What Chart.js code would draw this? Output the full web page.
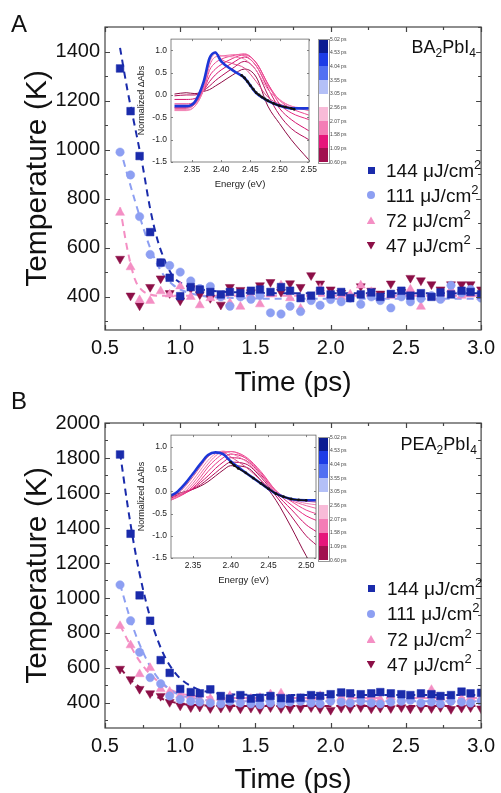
<!DOCTYPE html>
<html>
<head>
<meta charset="utf-8">
<script src="https://cdn.jsdelivr.net/npm/chart.js@4.4.1/dist/chart.umd.min.js"></script>
<style>
  body { margin: 0; background: #fff; }
  #wrap { position: relative; width: 501px; height: 793px; overflow: hidden; font-family: Arial, "Liberation Sans", sans-serif; color: #111; }
  #wrap canvas, #wrap .t { position: absolute; }
  .t { white-space: nowrap; line-height: 1; }
  .sub { font-size: 12px; position: relative; top: 4px; }
  .sup { font-size: 13px; position: relative; top: -8px; }
</style>
</head>
<body>
<div id="wrap">
  <canvas id="mainA" width="501" height="400" style="left:0;top:0"></canvas>
  <canvas id="insetA" width="194" height="166" style="left:126px;top:30px"></canvas>
  <canvas id="mainB" width="501" height="398" style="left:0;top:395px"></canvas>
  <canvas id="insetB" width="194" height="166" style="left:126px;top:426px"></canvas>
  <div class="t" style="left:11px;top:12px;font-size:24px">A</div>
  <div class="t" style="left:11px;top:389px;font-size:24px">B</div>
  <div class="t" style="right:25px;top:38px;font-size:18px">BA<span class="sub">2</span>PbI<span class="sub">4</span></div>
  <div class="t" style="right:24px;top:435px;font-size:18px">PEA<span class="sub">2</span>PbI<span class="sub">4</span></div>
</div>
<script>
const FONT = 'Arial, "Liberation Sans", sans-serif';

// delay times (ps) of the temperature points
const times = [0.60, 0.67, 0.73, 0.80, 0.87, 0.93, 1.00, 1.07, 1.13, 1.20, 1.27, 1.33, 1.40, 1.47, 1.53, 1.60, 1.67, 1.73, 1.80, 1.87,
  1.93, 2.00, 2.07, 2.13, 2.20, 2.27, 2.33, 2.40, 2.47, 2.53, 2.60, 2.67, 2.73, 2.80, 2.87, 2.93, 3.00];
const fluences = ['144', '111', '72', '47'];

// BA2PbI4 carrier temperature (K)
const tempA144 = [1331, 1157, 974, 664, 540, 478, 403, 440, 430, 420, 410, 420, 415, 425, 430, 420, 440, 425, 395, 405,
  425, 410, 420, 395, 410, 418, 400, 412, 425, 405, 415, 400, 418, 410, 425, 420, 410];
const tempA111 = [990, 897, 727, 573, 538, 528, 501, 465, 434, 443, 400, 362, 400, 390, 405, 335, 330, 362, 340, 385,
  366, 389, 380, 395, 370, 400, 385, 355, 400, 380, 393, 405, 390, 447, 416, 430, 395];
const tempA72 = [743, 521, 387, 384, 423, 410, 443, 400, 366, 395, 400, 375, 360, 405, 370, 410, 447, 395, 352, 395,
  434, 405, 400, 410, 447, 420, 395, 405, 415, 430, 360, 400, 395, 430, 405, 410, 400];
const tempA47 = [555, 405, 365, 440, 475, 415, 385, 435, 410, 395, 368, 440, 428, 418, 447, 460, 420, 455, 440, 488,
  454, 430, 416, 400, 443, 425, 413, 454, 420, 477, 467, 451, 430, 451, 451, 451, 430];

// PEA2PbI4 carrier temperature (K)
const tempB144 = [1820, 1367, 1015, 870, 645, 572, 480, 462, 455, 478, 440, 425, 445, 425, 430, 440, 428, 425, 430, 445,
  440, 450, 460, 455, 450, 455, 462, 455, 450, 445, 455, 450, 440, 445, 465, 455, 458];
const tempB111 = [1075, 870, 690, 545, 510, 440, 420, 410, 405, 400, 395, 410, 400, 395, 390, 400, 395, 405, 410, 400,
  395, 410, 405, 400, 410, 400, 395, 405, 410, 415, 400, 405, 395, 410, 405, 400, 410];
const tempB72 = [840, 730, 565, 600, 480, 465, 445, 440, 420, 425, 430, 440, 420, 425, 430, 450, 455, 420, 425, 430,
  440, 425, 430, 420, 425, 430, 420, 435, 425, 430, 440, 475, 430, 420, 425, 430, 425];
const tempB47 = [595, 535, 480, 455, 440, 405, 385, 375, 378, 370, 372, 375, 368, 372, 365, 375, 370, 368, 372, 375,
  368, 360, 372, 370, 375, 368, 372, 370, 375, 368, 372, 370, 376, 365, 372, 375, 368];

// dashed fit curves
const fitTimes = [0.6, 0.65, 0.7, 0.75, 0.8, 0.85, 0.9, 0.95, 1.0, 1.1, 1.2, 1.4, 1.7, 2.0, 2.5, 3.0];
const fitA144 = [1415, 1240, 1090, 935, 760, 630, 545, 485, 458, 435, 425, 418, 415, 415, 415, 415];
const fitA111 = [1005, 895, 790, 690, 600, 530, 480, 450, 430, 410, 400, 395, 392, 392, 392, 392];
const fitA72 = [765, 590, 470, 425, 410, 405, 405, 405, 405, 405, 405, 405, 405, 405, 405, 405];
const fitB144 = [1830, 1530, 1270, 1060, 890, 760, 660, 590, 540, 485, 460, 448, 445, 445, 445, 445];
const fitB111 = [1080, 930, 800, 695, 610, 545, 500, 465, 445, 425, 415, 410, 410, 410, 410, 410];
const fitB72 = [845, 760, 680, 615, 565, 525, 495, 470, 455, 440, 432, 428, 428, 428, 428, 428];
const fitB47 = [600, 550, 510, 478, 452, 432, 418, 405, 396, 388, 385, 383, 383, 383, 383, 383];

// inset spectra, early (0.60 ps) to late (5.02 ps)
const energyA = [2.32, 2.34, 2.355, 2.37, 2.38, 2.39, 2.40, 2.42, 2.44, 2.46, 2.48, 2.50, 2.52, 2.55];
const spectraA = [
  [0.02, 0.05, 0.03, 0.08, 0.12, 0.2, 0.28, 0.45, 0.58, 0.4, -0.25, -0.64, -1.0, -1.45],
  [-0.02, 0.0, 0.0, 0.1, 0.2, 0.32, 0.42, 0.6, 0.75, 0.55, 0.0, -0.45, -0.75, -1.0],
  [-0.1, -0.1, -0.08, 0.1, 0.3, 0.45, 0.56, 0.72, 0.85, 0.65, 0.15, -0.3, -0.55, -0.8],
  [-0.2, -0.2, -0.15, 0.1, 0.42, 0.58, 0.68, 0.82, 0.9, 0.72, 0.25, -0.2, -0.4, -0.55],
  [-0.28, -0.28, -0.2, 0.12, 0.55, 0.72, 0.8, 0.88, 0.92, 0.72, 0.25, -0.12, -0.3, -0.45],
  [-0.33, -0.33, -0.25, 0.12, 0.65, 0.85, 0.87, 0.9, 0.88, 0.65, 0.2, -0.1, -0.25, -0.35],
  [-0.35, -0.35, -0.25, 0.15, 0.72, 0.92, 0.88, 0.85, 0.8, 0.55, 0.12, -0.12, -0.25, -0.3],
  [-0.3, -0.3, -0.2, 0.2, 0.78, 0.96, 0.8, 0.7, 0.6, 0.3, -0.05, -0.2, -0.28, -0.3],
  [-0.25, -0.25, -0.15, 0.3, 0.82, 0.95, 0.75, 0.55, 0.38, 0.04, -0.13, -0.24, -0.3, -0.3]
];
const fitEnergyA = [2.435, 2.44, 2.445, 2.45, 2.455, 2.46, 2.465, 2.47, 2.475, 2.48, 2.49, 2.50, 2.51, 2.52, 2.525];
const fitSpecA = [0.44, 0.38, 0.3, 0.21, 0.13, 0.05, 0.0, -0.05, -0.09, -0.13, -0.19, -0.24, -0.27, -0.3, -0.32];

const energyB = [2.32, 2.33, 2.34, 2.35, 2.36, 2.37, 2.38, 2.39, 2.40, 2.42, 2.44, 2.46, 2.48, 2.50, 2.513];
const spectraB = [
  [-0.1, -0.05, 0.0, 0.05, 0.12, 0.22, 0.35, 0.48, 0.58, 0.55, 0.25, -0.2, -0.8, -1.45, -1.8],
  [-0.12, -0.08, -0.02, 0.05, 0.15, 0.28, 0.42, 0.56, 0.66, 0.62, 0.32, -0.1, -0.55, -1.0, -1.2],
  [-0.15, -0.1, -0.03, 0.06, 0.2, 0.35, 0.52, 0.66, 0.76, 0.7, 0.38, -0.05, -0.4, -0.75, -0.9],
  [-0.18, -0.12, -0.04, 0.08, 0.25, 0.45, 0.62, 0.76, 0.84, 0.75, 0.42, 0.0, -0.3, -0.55, -0.65],
  [-0.2, -0.13, -0.03, 0.12, 0.32, 0.55, 0.72, 0.85, 0.9, 0.78, 0.45, 0.02, -0.22, -0.42, -0.5],
  [-0.2, -0.12, 0.0, 0.18, 0.4, 0.62, 0.8, 0.9, 0.9, 0.75, 0.42, 0.0, -0.2, -0.32, -0.38],
  [-0.18, -0.1, 0.05, 0.25, 0.48, 0.7, 0.85, 0.91, 0.86, 0.68, 0.35, -0.02, -0.18, -0.27, -0.3],
  [-0.14, -0.05, 0.12, 0.33, 0.56, 0.78, 0.88, 0.88, 0.78, 0.55, 0.25, -0.04, -0.17, -0.22, -0.24],
  [-0.1, 0.0, 0.18, 0.4, 0.62, 0.82, 0.88, 0.84, 0.68, 0.42, 0.18, -0.05, -0.17, -0.2, -0.2]
];
const fitEnergyB = [2.40, 2.405, 2.41, 2.42, 2.43, 2.44, 2.45, 2.46, 2.47, 2.48, 2.49, 2.50];
const fitSpecB = [0.66, 0.58, 0.52, 0.42, 0.3, 0.18, 0.06, -0.05, -0.12, -0.17, -0.19, -0.2];

// colour bar
const delayLabels = ['5.02 ps', '4.53 ps', '4.04 ps', '3.55 ps', '3.05 ps', '2.56 ps', '2.07 ps', '1.58 ps', '1.09 ps', '0.60 ps'];
const barColors = ['#0b1c92', '#1d3ce6', '#5270f2', '#b4c0f7', '#ffffff', '#f8bbd8', '#f47db6', '#e6157b', '#a1104f'];
const lineColors = ['#8e0b45', '#b30e5a', '#d4126d', '#e62a80', '#ec4791', '#f064a2', '#f27fb2', '#e04a8c', '#1c37d8'];

const markStyles = [
  { color: '#1a2bab', shape: 'rect', r: 5.4, rot: 0 },
  { color: '#8d9ff2', shape: 'circle', r: 4.2, rot: 0 },
  { color: '#f48fc4', shape: 'triangle', r: 5.2, rot: 0 },
  { color: '#8c0f47', shape: 'triangle', r: 5.2, rot: 180 }
];

const framePlugin = {
  id: 'frame',
  afterDatasetsDraw(chart, args, o) {
    const { ctx, chartArea: a } = chart;
    const xs = chart.scales.x, ys = chart.scales.y;
    ctx.save();
    ctx.strokeStyle = o.color;
    ctx.lineWidth = o.width;
    ctx.strokeRect(a.left, a.top, a.right - a.left, a.bottom - a.top);
    ctx.beginPath();
    xs.ticks.forEach(t => {
      const p = Math.round(xs.getPixelForValue(t.value)) + 0.5;
      const len = t.label === '' ? o.minor : o.major;
      ctx.moveTo(p, a.bottom); ctx.lineTo(p, a.bottom - len);
      ctx.moveTo(p, a.top); ctx.lineTo(p, a.top + len);
    });
    ys.ticks.forEach(t => {
      const p = Math.round(ys.getPixelForValue(t.value)) + 0.5;
      const len = t.label === '' ? o.minor : o.major;
      ctx.moveTo(a.left, p); ctx.lineTo(a.left + len, p);
      ctx.moveTo(a.right, p); ctx.lineTo(a.right - len, p);
    });
    ctx.stroke();
    ctx.restore();
  }
};

const onStep = (v, step) => Math.abs(v / step - Math.round(v / step)) < 1e-6;
const noGrid = { display: false, drawTicks: false };

function tempChart(id, series, fits, yMin, yMax, padTop, xAxisH, titleLH, titlePad) {
  const datasets = [];
  series.forEach((vals, k) => {
    const s = markStyles[k];
    datasets.push({
      data: times.map((t, i) => ({ x: t, y: vals[i] })),
      pointStyle: s.shape, pointRotation: s.rot, pointRadius: s.r,
      backgroundColor: s.color, borderColor: s.color, pointBorderWidth: 0.5,
      showLine: false, order: 1
    });
    if (fits[k]) {
      datasets.push({
        data: fitTimes.map((t, i) => ({ x: t, y: fits[k][i] })),
        showLine: true, borderColor: s.color, borderWidth: 2, borderDash: [7, 5],
        pointRadius: 0, cubicInterpolationMode: 'monotone', order: 2
      });
    }
  });
  return new Chart(document.getElementById(id), {
    type: 'scatter',
    data: { datasets },
    options: {
      responsive: false, animation: false, events: [],
      layout: { padding: { top: padTop, right: 16, left: 0, bottom: 0 } },
      plugins: { legend: { display: false }, tooltip: { enabled: false },
        frame: { color: '#444', width: 1.2, major: 5, minor: 3 } },
      scales: {
        x: {
          type: 'linear', min: 0.5, max: 3.0,
          grid: noGrid, border: { display: false },
          ticks: { stepSize: 0.25, padding: 6, color: '#111', font: { family: FONT, size: 20 },
            autoSkip: false, maxRotation: 0, includeBounds: false,
            callback: v => onStep(v, 0.5) ? v.toFixed(1) : '' },
          title: { display: true, text: 'Time (ps)', color: '#111',
            font: { family: FONT, size: 28, lineHeight: titleLH }, padding: { top: 0, bottom: titlePad } },
          afterFit: s => { s.height = xAxisH; }
        },
        y: {
          type: 'linear', min: yMin, max: yMax,
          grid: noGrid, border: { display: false },
          afterBuildTicks: s => { s.ticks = s.ticks.filter(t => onStep(t.value, 100)); },
          ticks: { stepSize: 100, padding: 5, color: '#111', font: { family: FONT, size: 20 },
            autoSkip: false, includeBounds: false,
            callback: v => onStep(v, 200) ? String(v) : '' },
          title: { display: true, text: 'Temperature (K)', color: '#111',
            font: { family: FONT, size: 30, lineHeight: 1.2 }, padding: { top: 20, bottom: 0 } },
          afterFit: s => { s.width = 105; }
        }
      }
    },
    plugins: [framePlugin]
  });
}

function insetChart(id, energies, spectra, fitE, fitV, xMin, xMax, yMax) {
  const n = spectra.length;
  const datasets = spectra.map((vals, i) => ({
    data: energies.map((e, j) => ({ x: e, y: vals[j] })),
    showLine: true, borderColor: lineColors[i], borderWidth: i === n - 1 ? 2.6 : 1,
    pointRadius: 0, cubicInterpolationMode: 'monotone', order: n - i + 1
  }));
  datasets.push({
    data: fitE.map((e, j) => ({ x: e, y: fitV[j] })),
    showLine: true, borderColor: '#111', borderWidth: 1.6, pointRadius: 1.4,
    pointBackgroundColor: '#111', pointBorderWidth: 0, cubicInterpolationMode: 'monotone', order: 0
  });
  return new Chart(document.getElementById(id), {
    type: 'scatter',
    data: { datasets },
    options: {
      responsive: false, animation: false, events: [],
      layout: { padding: { top: 8, right: 4, left: 0, bottom: 0 } },
      plugins: { legend: { display: false }, tooltip: { enabled: false },
        frame: { color: '#666', width: 0.8, major: 2, minor: 2 } },
      scales: {
        x: {
          type: 'linear', min: xMin, max: xMax,
          grid: noGrid, border: { display: false },
          afterBuildTicks: s => { s.ticks = s.ticks.filter(t => onStep(t.value, 0.05)); },
          ticks: { stepSize: 0.05, padding: 3, color: '#222', font: { family: FONT, size: 8.5 },
            autoSkip: false, maxRotation: 0, includeBounds: false,
            callback: v => v.toFixed(2) },
          title: { display: true, text: 'Energy (eV)', color: '#222',
            font: { family: FONT, size: 9.5, lineHeight: 1.2 }, padding: { top: 0, bottom: 6 } },
          afterFit: s => { s.height = 34; }
        },
        y: {
          type: 'linear', min: -1.5, max: yMax,
          grid: noGrid, border: { display: false },
          afterBuildTicks: s => { s.ticks = s.ticks.filter(t => onStep(t.value, 0.5)); },
          ticks: { stepSize: 0.5, padding: 4, color: '#222', font: { family: FONT, size: 8.5 },
            autoSkip: false, includeBounds: false,
            callback: v => v.toFixed(1) },
          title: { display: true, text: 'Normalized ΔAbs', color: '#222',
            font: { family: FONT, size: 9, lineHeight: 1.2 }, padding: { top: 10, bottom: 0 } },
          afterFit: s => { s.width = 45; }
        }
      }
    },
    plugins: [framePlugin]
  });
}

const wrap = document.getElementById('wrap');

function addDiv(css, html) {
  const d = document.createElement('div');
  d.className = 't';
  d.style.cssText = css;
  if (html) d.innerHTML = html;
  wrap.appendChild(d);
  return d;
}

function colorBar(left, top, height) {
  const h = height / barColors.length;
  barColors.forEach((c, i) => {
    addDiv(`left:${left}px;top:${top + i * h}px;width:10px;height:${h + 0.4}px;background:${c}`);
  });
  addDiv(`left:${left - 0.5}px;top:${top - 0.5}px;width:10px;height:${height}px;border:0.5px solid #999`);
  delayLabels.forEach((t, i) => {
    addDiv(`left:${left + 12}px;top:${top + i * h - 2.5}px;font-size:5px;color:#444`, t);
  });
}

const shapeCss = {
  rect: 'width:7px;height:7px;',
  circle: 'width:8px;height:8px;border-radius:50%;',
  triangle: 'width:9px;height:8px;clip-path:polygon(50% 0,100% 100%,0 100%);'
};

function legend(markX, textX, rows) {
  fluences.forEach((f, k) => {
    const s = markStyles[k];
    let css = shapeCss[s.shape];
    if (s.rot === 180) css = 'width:9px;height:8px;clip-path:polygon(0 0,100% 0,50% 100%);';
    const w = parseFloat(css.match(/width:([\d.]+)/)[1]);
    const h = parseFloat(css.match(/height:([\d.]+)/)[1]);
    addDiv(`${css}left:${markX - w / 2}px;top:${rows[k] - h / 2}px;background:${s.color}`);
    addDiv(`left:${textX}px;top:${rows[k] - 9.5}px;font-size:19px`, `${f} μJ/cm<span class="sup">2</span>`);
  });
}

tempChart('mainA', [tempA144, tempA111, tempA72, tempA47], [fitA144, fitA111, fitA72, null],
  265, 1500, 27, 70, 1, 3);
tempChart('mainB', [tempB144, tempB111, tempB72, tempB47], [fitB144, fitB111, fitB72, fitB47],
  257, 2000, 28, 65, 0.9, 0);
insetChart('insetA', energyA, spectraA, fitEnergyA, fitSpecA, 2.314, 2.5505, 1.25);
insetChart('insetB', energyB, spectraB, fitEnergyB, fitSpecB, 2.321, 2.513, 1.27);

colorBar(318, 39, 123);
colorBar(318, 437, 123);
legend(371, 386, [170, 195.2, 220.4, 245.6]);
legend(371, 387, [588, 613.5, 639, 664.5]);
</script>
</body>
</html>
